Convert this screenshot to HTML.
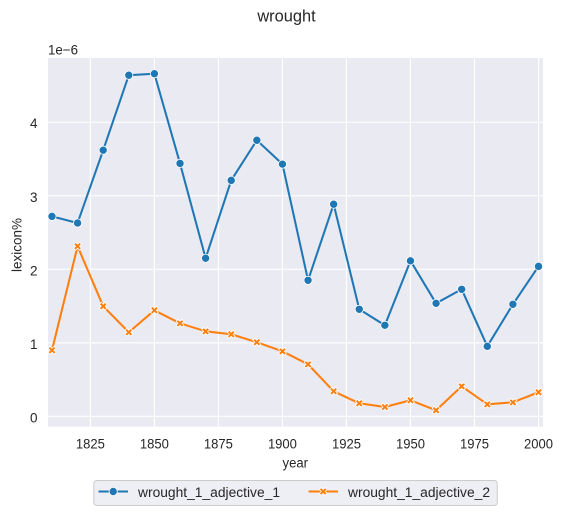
<!DOCTYPE html>
<html>
<head>
<meta charset="utf-8">
<style>
html,body{margin:0;padding:0;background:#fff;width:563px;height:515px;overflow:hidden}
svg{display:block}
text{font-family:"Liberation Sans",Arial,sans-serif;fill:#262626}
</style>
</head>
<body>
<svg id="chart" xmlns="http://www.w3.org/2000/svg" width="563" height="515" viewBox="0 0 563 515">
  <rect x="48" y="58" width="495" height="368.7" fill="#eaeaf2"/>
  <g id="grid"></g>
  <g id="series"></g>
  <g id="xticks"></g>
  <g id="yticks"></g>
  <text x="286.5" y="21.7" font-size="16.4" text-anchor="middle">wrought</text>
  <text x="48" y="54.3" font-size="13.6" textLength="30" lengthAdjust="spacingAndGlyphs">1e−6</text>
  <text x="295.3" y="467.5" font-size="13.5" text-anchor="middle" textLength="25.5" lengthAdjust="spacingAndGlyphs">year</text>
  <text transform="translate(21.5,245) rotate(-90)" font-size="13.5" text-anchor="middle" textLength="54" lengthAdjust="spacingAndGlyphs">lexicon%</text>
  <g>
    <rect x="93.8" y="480.5" width="403.5" height="25" rx="3" fill="#eaeaf2" fill-opacity="0.8" stroke="#cccccc" stroke-width="1"/>
    <g id="legend-handles"></g>
    <text x="138" y="497" font-size="13.85" textLength="142" lengthAdjust="spacingAndGlyphs">wrought_1_adjective_1</text>
    <text x="348" y="497" font-size="13.85" textLength="142" lengthAdjust="spacingAndGlyphs">wrought_1_adjective_2</text>
  </g>
</svg>
<script>
const years = [1810,1820,1830,1840,1850,1860,1870,1880,1890,1900,1910,1920,1930,1940,1950,1960,1970,1980,1990,2000];
const adjective1 = [2.72,2.63,3.62,4.64,4.66,3.44,2.15,3.21,3.755,3.43,1.85,2.885,1.456,1.238,2.115,1.537,1.728,0.952,1.524,2.04];
const adjective2 = [0.898,2.313,1.497,1.143,1.442,1.265,1.156,1.116,1.007,0.884,0.707,0.34,0.177,0.127,0.218,0.082,0.408,0.163,0.19,0.327];
const xTickValues = [1825,1850,1875,1900,1925,1950,1975,2000];
const yTickValues = [0,1,2,3,4];

const NS = 'http://www.w3.org/2000/svg';
const plotLeft = 48, plotRight = 543, plotTop = 58, plotBottom = 426.7;
const xMin = 1808.45, xMax = 2001.75, yMin = -0.1415, yMax = 4.874;
function sx(v){ return plotLeft + (v - xMin) / (xMax - xMin) * (plotRight - plotLeft); }
function sy(v){ return plotBottom - (v - yMin) / (yMax - yMin) * (plotBottom - plotTop); }
function make(tag, attrs, parent){
  const el = document.createElementNS(NS, tag);
  for (const k in attrs) el.setAttribute(k, attrs[k]);
  parent.appendChild(el);
  return el;
}
function crossPoints(cx, cy, s){
  const a = s, b = s * 0.5;
  const pts = [[-a,-a+b],[-a+b,-a],[0,-b],[a-b,-a],[a,-a+b],[b,0],[a,a-b],[a-b,a],[0,b],[-a+b,a],[-a,a-b],[-b,0]];
  return pts.map(p => (cx + p[0]).toFixed(2) + ',' + (cy + p[1]).toFixed(2)).join(' ');
}

const grid = document.getElementById('grid');
const xTicks = document.getElementById('xticks');
const yTicks = document.getElementById('yticks');
const series = document.getElementById('series');
const handles = document.getElementById('legend-handles');

xTickValues.forEach(function(v){
  const line = make('line', {x1:sx(v), x2:sx(v), y1:plotTop, y2:plotBottom, stroke:'#fff', 'stroke-width':1.1}, grid);
  
  
  const t = make('text', {x:sx(v), y:448.3, 'font-size':13.5, 'text-anchor':'middle', textLength:29, lengthAdjust:'spacingAndGlyphs'}, xTicks);
  t.textContent = v;
  
  
});
yTickValues.forEach(function(v){
  const line = make('line', {x1:plotLeft, x2:plotRight, y1:sy(v), y2:sy(v), stroke:'#fff', 'stroke-width':1.1}, grid);
  
  
  const t = make('text', {x:37.5, y:sy(v) + 6, 'font-size':13.5, 'text-anchor':'end'}, yTicks);
  t.textContent = v;
  
  
});

function linePoints(values){
  return values.map((v, i) => sx(years[i]).toFixed(2) + ',' + sy(v).toFixed(2)).join(' ');
}

const line1 = make('polyline', {points:linePoints(adjective1), fill:'none', stroke:'#1f77b4', 'stroke-width':2.05, 'stroke-linejoin':'round'}, series);


adjective1.forEach(function(v, i){
  const c = make('circle', {cx:sx(years[i]), cy:sy(v), r:4.1, fill:'#1f77b4', stroke:'#fff', 'stroke-width':0.8}, series);
  
  
});

const line2 = make('polyline', {points:linePoints(adjective2), fill:'none', stroke:'#ff7f0e', 'stroke-width':2.05, 'stroke-linejoin':'round'}, series);


adjective2.forEach(function(v, i){
  const m = make('polygon', {points:crossPoints(sx(years[i]), sy(v), 3.9), fill:'#ff7f0e', stroke:'#fff', 'stroke-width':0.8}, series);
  
  
});

const h1 = make('line', {x1:98.5, x2:128, y1:491.5, y2:491.5, stroke:'#1f77b4', 'stroke-width':2.05}, handles);


const hm1 = make('circle', {cx:113.2, cy:491.5, r:4.1, fill:'#1f77b4', stroke:'#fff', 'stroke-width':0.8}, handles);


const h2 = make('line', {x1:308.5, x2:338, y1:491.5, y2:491.5, stroke:'#ff7f0e', 'stroke-width':2.05}, handles);


const hm2 = make('polygon', {points:crossPoints(323.2, 491.5, 3.9), fill:'#ff7f0e', stroke:'#fff', 'stroke-width':0.8}, handles);


</script>
</body>
</html>
